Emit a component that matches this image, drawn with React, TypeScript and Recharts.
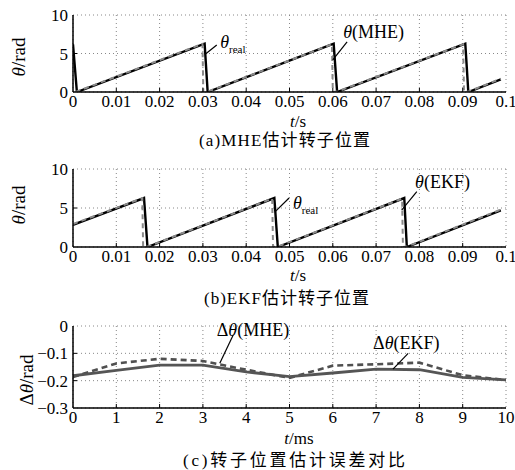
import { CartesianGrid, Line, LineChart, ReferenceDot, ReferenceLine, XAxis, YAxis } from 'recharts';

// (a) MHE
const timeRealA = [0, 0.0009, 0.0304, 0.0311, 0.0602, 0.061, 0.0906, 0.0913, 0.0988];
const thetaRealA = [6.2, 0, 6.28, 0, 6.28, 0, 6.28, 0, 1.65];
const timeMheA = [0.0006, 0.0299, 0.0301, 0.0311, 0.0598, 0.06, 0.061, 0.0901, 0.0903, 0.0913, 0.0988];
const thetaMheA = [0, 6.25, 0, 0.05, 6.2, 0, 0.05, 6.2, 0, 0.05, 1.72];

// (b) EKF
const timeRealB = [0, 0.0164, 0.0172, 0.0465, 0.0473, 0.0765, 0.0771, 0.0988];
const thetaRealB = [2.85, 6.28, 0, 6.28, 0, 6.28, 0, 4.7];
const timeEkfB = [0, 0.016, 0.0162, 0.0172, 0.046, 0.0462, 0.0473, 0.076, 0.0762, 0.0771, 0.0988];
const thetaEkfB = [2.95, 6.25, 0, 0.05, 6.2, 0, 0.05, 6.2, 0, 0.05, 4.8];

// (c) error, t in ms
const timeC = [0, 1, 2, 3, 4, 5, 6, 7, 8, 9, 10];
const errMhe = [-0.187, -0.137, -0.12, -0.128, -0.16, -0.19, -0.145, -0.14, -0.134, -0.18, -0.198];
const errEkf = [-0.182, -0.162, -0.143, -0.143, -0.168, -0.185, -0.172, -0.158, -0.16, -0.188, -0.197];

const sTicks = [0, 0.01, 0.02, 0.03, 0.04, 0.05, 0.06, 0.07, 0.08, 0.09, 0.1];
const sTickLabels = ['0', '0.01', '0.02', '0.03', '0.04', '0.05', '0.06', '0.07', '0.08', '0.09', '0.1'];
const thetaTicks = [0, 5, 10];
const thetaTickLabels = ['0', '5', '10'];
const msTicks = [0, 1, 2, 3, 4, 5, 6, 7, 8, 9, 10];
const msTickLabels = ['0', '1', '2', '3', '4', '5', '6', '7', '8', '9', '10'];
const errTicks = [-0.3, -0.2, -0.1, 0];
const errTickLabels = ['\u22120.3', '\u22120.2', '\u22120.1', '0'];

const zip = (ts: number[], vs: number[]) => ts.map((t, i) => ({ t, v: vs[i] }));

const SERIF = 'Liberation Serif, DejaVu Serif, Tinos, Times, serif';
const CAPTION_FONT = 'Liberation Serif, DejaVu Serif, Noto Sans CJK SC, serif';
const W = 515;
const margin = { top: 15, right: 9, bottom: 0, left: 13 };

// tick label plus a short inward tick mark
const xTick = (labels: string[]) => (p: any) => (
  <g>
    {p.index > 0 && p.index < labels.length - 1 && (
      <line x1={p.x} x2={p.x} y1={p.y - 3} y2={p.y - 7} stroke="#000" strokeWidth={1} />
    )}
    <text x={p.x} y={p.y} dy="0.71em" textAnchor="middle" fontSize={17} fill="#000" style={{ fontFamily: SERIF }}>
      {labels[p.index]}
    </text>
  </g>
);

const yTick = (labels: string[]) => (p: any) => (
  <g>
    {p.index > 0 && p.index < labels.length - 1 && (
      <line x1={p.x + 5} x2={p.x + 9} y1={p.y} y2={p.y} stroke="#000" strokeWidth={1} />
    )}
    <text x={p.x} y={p.y} dy="0.355em" textAnchor="end" fontSize={17} fill="#000" style={{ fontFamily: SERIF }}>
      {labels[p.index]}
    </text>
  </g>
);

const note = (content: any) => (props: any) => (
  <text x={props.cx} y={props.cy} dy="0.35em" style={{ fontFamily: SERIF }} fontSize={18} fill="#000">
    {content}
  </text>
);

const thetaReal = (
  <>
    <tspan fontStyle="italic">θ</tspan>
    <tspan fontSize={11} dy={5}>real</tspan>
  </>
);

function Axes({ xTicks, xLabels, xDomain, yTicks, yLabels, yDomain }: any) {
  return [
    <CartesianGrid key="g" stroke="#888" strokeDasharray="1 3" />,
    <XAxis
      key="x"
      type="number"
      dataKey="t"
      domain={xDomain}
      ticks={xTicks}
      tick={xTick(xLabels)}
      tickLine={false}
      tickSize={0}
      tickMargin={3}
      height={20}
      axisLine={{ stroke: '#000', strokeWidth: 1.5 }}
      allowDataOverflow
      interval={0}
    />,
    <YAxis
      key="y"
      type="number"
      domain={yDomain}
      ticks={yTicks}
      tick={yTick(yLabels)}
      tickLine={false}
      tickSize={0}
      tickMargin={5}
      width={60}
      axisLine={{ stroke: '#000', strokeWidth: 1.5 }}
      allowDataOverflow
      interval={0}
    />,
  ];
}

export default function App() {
  return (
    <div style={{ position: 'absolute', left: 0, top: 0, width: W, height: 470, background: '#fff', fontFamily: SERIF }}>
      <div style={{ position: 'absolute', left: 0, top: 0 }}>
        <LineChart width={W} height={112} margin={margin}>
          {Axes({ xTicks: sTicks, xLabels: sTickLabels, xDomain: [0, 0.1], yTicks: thetaTicks, yLabels: thetaTickLabels, yDomain: [0, 10] })}
          <Line data={zip(timeRealA, thetaRealA)} dataKey="v" stroke="#000" strokeWidth={2.4} dot={false} isAnimationActive={false} />
          <Line data={zip(timeMheA, thetaMheA)} dataKey="v" stroke="#8a8a8a" strokeWidth={2} strokeDasharray="5 4" dot={false} isAnimationActive={false} />
          <ReferenceLine segment={[{ x: 0.0306, y: 4.94 }, { x: 0.0332, y: 6.1 }]} stroke="#000" strokeWidth={1.2} ifOverflow="visible" />
          <ReferenceLine segment={[{ x: 0.06, y: 4.16 }, { x: 0.0633, y: 6.5 }]} stroke="#000" strokeWidth={1.2} ifOverflow="visible" />
          <ReferenceDot x={0.034} y={6.5} r={0} ifOverflow="visible" shape={note(thetaReal)} />
          <ReferenceDot x={0.0624} y={7.8} r={0} ifOverflow="visible" shape={note(<><tspan fontStyle="italic">θ</tspan>(MHE)</>)} />
        </LineChart>
      </div>
      <div style={{ position: 'absolute', left: 0, top: 154 }}>
        <LineChart width={W} height={113} margin={margin}>
          {Axes({ xTicks: sTicks, xLabels: sTickLabels, xDomain: [0, 0.1], yTicks: thetaTicks, yLabels: thetaTickLabels, yDomain: [0, 10] })}
          <Line data={zip(timeRealB, thetaRealB)} dataKey="v" stroke="#000" strokeWidth={2.4} dot={false} isAnimationActive={false} />
          <Line data={zip(timeEkfB, thetaEkfB)} dataKey="v" stroke="#8a8a8a" strokeWidth={2} strokeDasharray="5 4" dot={false} isAnimationActive={false} />
          <ReferenceLine segment={[{ x: 0.0467, y: 4.53 }, { x: 0.0499, y: 6.28 }]} stroke="#000" strokeWidth={1.2} ifOverflow="visible" />
          <ReferenceLine segment={[{ x: 0.0759, y: 4.74 }, { x: 0.0794, y: 7.09 }]} stroke="#000" strokeWidth={1.2} ifOverflow="visible" />
          <ReferenceDot x={0.0508} y={5.64} r={0} ifOverflow="visible" shape={note(thetaReal)} />
          <ReferenceDot x={0.079} y={8.37} r={0} ifOverflow="visible" shape={note(<><tspan fontStyle="italic">θ</tspan>(EKF)</>)} />
        </LineChart>
      </div>
      <div style={{ position: 'absolute', left: 0, top: 311 }}>
        <LineChart width={W} height={117} margin={margin}>
          {Axes({ xTicks: msTicks, xLabels: msTickLabels, xDomain: [0, 10], yTicks: errTicks, yLabels: errTickLabels, yDomain: [-0.3, 0] })}
          <Line data={zip(timeC, errMhe)} dataKey="v" stroke="#505050" strokeWidth={2.6} strokeDasharray="6 4" dot={false} isAnimationActive={false} />
          <Line data={zip(timeC, errEkf)} dataKey="v" stroke="#555" strokeWidth={2.8} dot={false} isAnimationActive={false} />
          <ReferenceLine segment={[{ x: 3.39, y: -0.136 }, { x: 3.7, y: -0.033 }]} stroke="#000" strokeWidth={1.2} ifOverflow="visible" />
          <ReferenceLine segment={[{ x: 7.39, y: -0.158 }, { x: 7.74, y: -0.1 }]} stroke="#000" strokeWidth={1.2} ifOverflow="visible" />
          <ReferenceDot x={3.32} y={-0.013} r={0} ifOverflow="visible" shape={note(<>Δ<tspan fontStyle="italic">θ</tspan>(MHE)</>)} />
          <ReferenceDot x={6.93} y={-0.062} r={0} ifOverflow="visible" shape={note(<>Δ<tspan fontStyle="italic">θ</tspan>(EKF)</>)} />
        </LineChart>
      </div>
      <svg width={W} height={470} style={{ position: 'absolute', left: 0, top: 0, pointerEvents: 'none', fontFamily: SERIF }}>
        <g fontSize={19} fill="#000">
          <text x={25} y={57} textAnchor="middle" transform="rotate(-90 25 57)">
            <tspan fontStyle="italic">θ</tspan>/rad
          </text>
          <text x={25} y={205} textAnchor="middle" transform="rotate(-90 25 205)">
            <tspan fontStyle="italic">θ</tspan>/rad
          </text>
          <text x={33} y={380} textAnchor="middle" transform="rotate(-90 33 380)">
            Δ<tspan fontStyle="italic">θ</tspan>/rad
          </text>
          <text x={298} y={127} textAnchor="middle" fontSize={17}>
            <tspan fontStyle="italic">t</tspan>/s
          </text>
          <text x={298} y={281} textAnchor="middle" fontSize={17}>
            <tspan fontStyle="italic">t</tspan>/s
          </text>
          <text x={299} y={444} textAnchor="middle" fontSize={17}>
            <tspan fontStyle="italic">t</tspan>/ms
          </text>
        </g>
        <g style={{ fontFamily: CAPTION_FONT }} fontSize={17} fill="#000">
          <text x={199} y={146} textLength={171} lengthAdjust="spacing">(a)MHE估计转子位置</text>
          <text x={204} y={304} textLength={165} lengthAdjust="spacing">(b)EKF估计转子位置</text>
          <text x={183} y={466} textLength={222} lengthAdjust="spacing">(c)转子位置估计误差对比</text>
        </g>
      </svg>
    </div>
  );
}
